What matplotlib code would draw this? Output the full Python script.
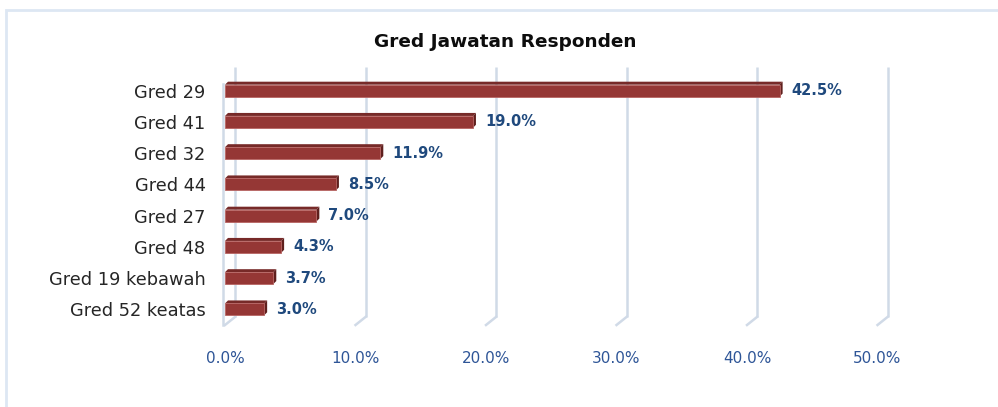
import matplotlib
matplotlib.use("Agg")
import matplotlib.pyplot as plt
from matplotlib.patches import Polygon, Rectangle
from matplotlib.transforms import ScaledTranslation, IdentityTransform

# Data
categories = ["Gred 29", "Gred 41", "Gred 32", "Gred 44", "Gred 27",
              "Gred 48", "Gred 19 kebawah", "Gred 52 keatas"]
values = [42.5, 19.0, 11.9, 8.5, 7.0, 4.3, 3.7, 3.0]
xticks = [0, 10, 20, 30, 40, 50]
title = "Gred Jawatan Responden"

W, H = 998, 407
fig = plt.figure(figsize=(W / 100, H / 100), dpi=100)
ax = fig.add_axes([225 / W, 1 - 325 / H, 652.5 / W, 250 / H])
ax.set_xlim(0, 50)
ax.set_ylim(7.5, -0.5)
for s in ax.spines.values():
    s.set_visible(False)

# 3D depth offsets (pixels)
wall_dx, wall_dy = 10, 8
bar_dx, bar_dy = 3, 3
back = ax.transData + ScaledTranslation(wall_dx / 100, wall_dy / 100, fig.dpi_scale_trans)
grid_col = "#d0dae7"

# back wall gridlines with floor diagonal
for t in xticks:
    ax.plot([t, t], [7.5, -0.5], transform=back, color=grid_col, lw=1.8,
            clip_on=False, zorder=1, solid_capstyle="butt")
    p1 = ax.transData.transform((t, 7.5))
    p2 = back.transform((t, 7.5))
    ax.plot([p1[0], p2[0]], [p1[1], p2[1]], transform=IdentityTransform(),
            color=grid_col, lw=1.8, clip_on=False, zorder=1)
# left wall edge
left = ax.transData + ScaledTranslation(-2 / 100, 0, fig.dpi_scale_trans)
ax.plot([0, 0], [7.5, -0.2], transform=left, color=grid_col, lw=1.8,
        clip_on=False, zorder=1)

# bars
h = 0.38
ypos = list(range(len(categories)))
ax.barh(ypos, values, height=h, color="#953735", edgecolor="#b86563",
        linewidth=0.6, zorder=3)
for y, v in zip(ypos, values):
    tl = ax.transData.transform((0, y - h / 2))
    tr = ax.transData.transform((v, y - h / 2))
    br = ax.transData.transform((v, y + h / 2))
    top = [tl, tr, (tr[0] + bar_dx, tr[1] + bar_dy), (tl[0] + bar_dx, tl[1] + bar_dy)]
    side = [tr, br, (br[0] + bar_dx, br[1] + bar_dy), (tr[0] + bar_dx, tr[1] + bar_dy)]
    ax.add_patch(Polygon(top, closed=True, transform=IdentityTransform(),
                         facecolor="#772a28", edgecolor="none", zorder=2, clip_on=False))
    ax.add_patch(Polygon(side, closed=True, transform=IdentityTransform(),
                         facecolor="#5e1f1d", edgecolor="none", zorder=2, clip_on=False))
    ax.annotate(f"{v:.1f}%", (v, y), xytext=(12, 0), textcoords="offset pixels",
                ha="left", va="center", fontsize=10.5, fontweight="bold",
                color="#1f497d", zorder=4)

ax.set_yticks(ypos)
ax.set_yticklabels(categories, fontsize=12.8, color="#262626")
ax.tick_params(axis="y", length=0, pad=14)
ax.set_xticks(xticks)
ax.set_xticklabels([f"{t:.1f}%" for t in xticks], fontsize=11, color="#2e5597")
ax.tick_params(axis="x", length=0, pad=19)

fig.text(505 / W, 1 - 42 / H, title, ha="center", va="center",
         fontsize=13.3, fontweight="bold", color="#0d0d0d")

# outer chart frame
fig.patches.append(Rectangle((6 / W, -0.1), 1.2, 1.1 - 10 / H, transform=fig.transFigure,
                             fill=False, edgecolor="#dde7f3", lw=2, zorder=0))

fig.savefig("out.png", dpi=100)
